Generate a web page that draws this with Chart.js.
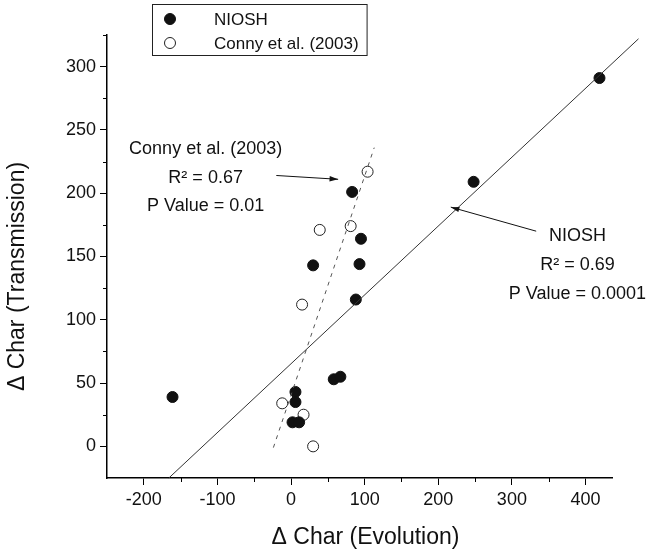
<!DOCTYPE html>
<html>
<head>
<meta charset="utf-8">
<script src="https://cdn.jsdelivr.net/npm/chart.js@4.4.1/dist/chart.umd.min.js"></script>
<style>
  body { margin: 0; background: #fff; }
  canvas { display: block; }
</style>
</head>
<body>
<canvas id="charChart" width="652" height="557"></canvas>
<script>
// NIOSH samples (filled circles)
var nioshX = [419, 248, 83, 95, 93, 30, 88, -161, 58, 67, 6, 6, 2, 11];
var nioshY = [291, 209, 201, 164, 144, 143, 116, 39, 53, 55, 43, 35, 19, 19];
// Conny et al. (2003) samples (open circles)
var connyX = [104, 39, 81, 15, -12, 17, 30];
var connyY = [217, 171, 174, 112, 34, 25, 0];
// regression lines, end points
var nioshFitX = [-166, 472];
var nioshFitY = [-25, 322];
var connyFitX = [-24, 113];
var connyFitY = [-1, 236];
// axes
var xTicks = [-200, -100, 0, 100, 200, 300, 400];
var xMinor = [-150, -50, 50, 150, 250, 350];
var yTicks = [0, 50, 100, 150, 200, 250, 300];
var yMinor = [25, 75, 125, 175, 225, 275, 325];

var FONT = "'Liberation Sans', Arial, sans-serif";

function pts(xs, ys) {
  return xs.map(function (x, i) { return { x: x, y: ys[i] }; });
}

// minor tick marks, outward like the major ones
var minorTicks = {
  id: 'minorTicks',
  afterDraw: function (chart) {
    var c = chart.ctx, xs = chart.scales.x, ys = chart.scales.y;
    c.save();
    c.strokeStyle = '#000';
    c.lineWidth = 1;
    c.beginPath();
    xMinor.forEach(function (v) {
      var px = Math.round(xs.getPixelForValue(v)) + 0.5;
      c.moveTo(px, xs.top); c.lineTo(px, xs.top + 4);
    });
    yMinor.forEach(function (v) {
      var py = Math.round(ys.getPixelForValue(v)) + 0.5;
      c.moveTo(ys.right, py); c.lineTo(ys.right - 4, py);
    });
    c.stroke();
    c.restore();
  }
};

function arrow(c, x1, y1, x2, y2) {
  var a = Math.atan2(y2 - y1, x2 - x1);
  c.beginPath();
  c.moveTo(x1, y1); c.lineTo(x2, y2);
  c.stroke();
  c.beginPath();
  c.moveTo(x2, y2);
  c.lineTo(x2 - 9 * Math.cos(a - 0.3), y2 - 9 * Math.sin(a - 0.3));
  c.lineTo(x2 - 9 * Math.cos(a + 0.3), y2 - 9 * Math.sin(a + 0.3));
  c.closePath();
  c.fill();
}

// fit statistics, their arrows and the axis titles
var fitNotes = {
  id: 'fitNotes',
  afterDatasetsDraw: function (chart) {
    var c = chart.ctx, xs = chart.scales.x, ys = chart.scales.y, area = chart.chartArea;
    function X(v) { return xs.getPixelForValue(v); }
    function Y(v) { return ys.getPixelForValue(v); }
    c.save();
    c.fillStyle = '#111';
    c.strokeStyle = '#111';
    c.lineWidth = 1;
    c.font = '18px ' + FONT;
    c.textAlign = 'center';
    c.textBaseline = 'middle';
    c.fillText('Conny et al. (2003)', X(-116), Y(235));
    c.fillText('R\u00b2 = 0.67', X(-116), Y(212));
    c.fillText('P Value = 0.01', X(-116), Y(190));
    c.fillText('NIOSH', X(389), Y(166));
    c.fillText('R\u00b2 = 0.69', X(389), Y(143));
    c.fillText('P Value = 0.0001', X(389), Y(120));
    arrow(c, X(-20), Y(214), X(64), Y(211));
    arrow(c, X(333), Y(170), X(217), Y(189));

    c.font = '23px ' + FONT;
    c.fillText('\u0394 Char (Evolution)', (area.left + area.right) / 2 + 6, 538);
    c.translate(18, (area.top + area.bottom) / 2 + 20);
    c.rotate(-Math.PI / 2);
    c.fillText('\u0394 Char (Transmission)', 0, 0);
    c.restore();
  }
};

// boxed legend above the plot
var boxLegend = {
  id: 'boxLegend',
  afterDraw: function (chart) {
    var c = chart.ctx;
    var items = chart.data.datasets.filter(function (d) { return d.inLegend; });
    c.save();
    c.font = '17px ' + FONT;
    var w = 0;
    items.forEach(function (d) { w = Math.max(w, c.measureText(d.label).width); });
    var left = 152, top = 4, rowH = 24;
    var boxW = 62 + w + 8, boxH = items.length * rowH + 3;
    c.fillStyle = '#fff';
    c.fillRect(left, top, boxW, boxH);
    c.strokeStyle = '#222';
    c.lineWidth = 1;
    c.strokeRect(left + 0.5, top + 0.5, boxW, boxH);
    items.forEach(function (d, i) {
      var cy = top + 15 + i * rowH;
      c.beginPath();
      c.arc(left + 18, cy, d.pointRadius, 0, Math.PI * 2);
      c.fillStyle = d.backgroundColor;
      c.fill();
      c.strokeStyle = d.borderColor;
      c.lineWidth = d.borderWidth;
      c.stroke();
      c.fillStyle = '#111';
      c.textBaseline = 'middle';
      c.fillText(d.label, left + 62, cy + 1);
    });
    c.restore();
  }
};

new Chart(document.getElementById('charChart'), {
  type: 'scatter',
  data: {
    datasets: [
      {
        label: 'NIOSH fit',
        type: 'line',
        data: pts(nioshFitX, nioshFitY),
        showLine: true,
        borderColor: '#333',
        borderWidth: 1,
        pointRadius: 0,
        fill: false,
        clip: false
      },
      {
        label: 'Conny fit',
        type: 'line',
        data: pts(connyFitX, connyFitY),
        showLine: true,
        borderColor: '#555',
        borderWidth: 1,
        borderDash: [4, 5],
        pointRadius: 0,
        fill: false
      },
      {
        label: 'NIOSH',
        inLegend: true,
        data: pts(nioshX, nioshY),
        backgroundColor: '#111',
        borderColor: '#111',
        borderWidth: 1,
        pointRadius: 5.5
      },
      {
        label: 'Conny et al. (2003)',
        inLegend: true,
        data: pts(connyX, connyY),
        backgroundColor: '#fff',
        borderColor: '#222',
        borderWidth: 1,
        pointRadius: 5.5
      }
    ]
  },
  options: {
    responsive: false,
    animation: false,
    layout: { padding: { top: 35, right: 40, left: 0, bottom: 0 } },
    plugins: {
      legend: { display: false },
      tooltip: { enabled: false }
    },
    scales: {
      x: {
        type: 'linear',
        min: -250,
        max: 436,
        afterBuildTicks: function (axis) {
          axis.ticks = xTicks.map(function (v) { return { value: v }; });
        },
        afterFit: function (axis) { axis.height = 79; },
        border: { color: '#000', width: 1.5 },
        grid: { drawOnChartArea: false, color: '#000', tickLength: 7 },
        ticks: { color: '#111', font: { family: FONT, size: 18 }, padding: 4, maxRotation: 0 }
      },
      y: {
        type: 'linear',
        min: -25,
        max: 325,
        afterBuildTicks: function (axis) {
          axis.ticks = yTicks.map(function (v) { return { value: v }; });
        },
        afterFit: function (axis) { axis.width = 107; },
        border: { color: '#000', width: 1.5 },
        grid: { drawOnChartArea: false, color: '#000', tickLength: 7 },
        ticks: { color: '#111', font: { family: FONT, size: 18 }, padding: 4 }
      }
    }
  },
  plugins: [minorTicks, fitNotes, boxLegend]
});
</script>
</body>
</html>
